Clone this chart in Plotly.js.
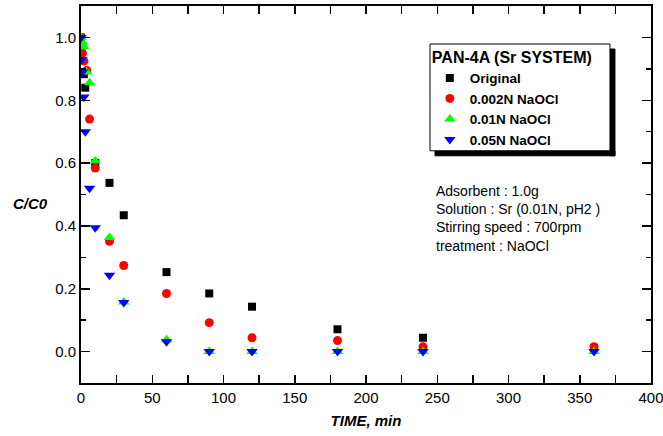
<!DOCTYPE html>
<html>
<head>
<meta charset="utf-8">
<script src="https://cdn.plot.ly/plotly-3.0.1.min.js"></script>
<style>html,body{margin:0;padding:0;background:#fff;}#chart{width:663px;height:436px;}</style>
</head>
<body>
<div id="chart"></div>
<script>
// Data (time in min, C/C0)
const seriesNames = ["Original", "0.002N NaOCl", "0.01N NaOCl", "0.05N NaOCl"];

const timeOriginal = [0, 2, 3, 10, 20, 30, 60, 90, 120, 180, 240, 360];
const valOriginal  = [1.0, 0.883, 0.84, 0.60, 0.537, 0.434, 0.253, 0.185, 0.143, 0.071, 0.044, 0.012];

const time002 = [0, 1, 2, 4, 6, 10, 20, 30, 60, 90, 120, 180, 240, 360];
const val002  = [1.0, 0.95, 0.925, 0.895, 0.74, 0.584, 0.351, 0.274, 0.185, 0.092, 0.044, 0.035, 0.015, 0.015];

const time01 = [0, 1, 2, 4, 6, 10, 20, 30, 60, 90, 120, 180, 240, 360];
const val01  = [1.0, 0.985, 0.97, 0.89, 0.856, 0.607, 0.363, 0.158, 0.038, 0.0, 0.0, 0.0, 0.0, 0.0];

const time05 = [0, 0.5, 1, 2, 3, 6, 10, 20, 30, 60, 90, 120, 180, 240, 360];
const val05  = [1.0, 0.93, 0.89, 0.81, 0.70, 0.52, 0.394, 0.243, 0.156, 0.031, 0.0, 0.0, 0.0, 0.0, 0.0];

const legendTitle = "PAN-4A (Sr SYSTEM)";
const infoLines = ["Adsorbent : 1.0g", "Solution : Sr (0.01N, pH2 )", "Stirring speed : 700rpm", "treatment : NaOCl"];

const FONT = "Liberation Sans, Arial, sans-serif";

const traces = [
  {x: timeOriginal, y: valOriginal, name: seriesNames[0], mode: "markers", type: "scatter",
   marker: {symbol: "square", size: 8, color: "#000000"}},
  {x: time002, y: val002, name: seriesNames[1], mode: "markers", type: "scatter",
   marker: {symbol: "circle", size: 9, color: "#ff0000"}},
  {x: time01, y: val01, name: seriesNames[2], mode: "markers", type: "scatter",
   marker: {symbol: "triangle-up", size: 10, color: "#00ff00"}},
  {x: time05, y: val05, name: seriesNames[3], mode: "markers", type: "scatter",
   marker: {symbol: "triangle-down", size: 10, color: "#0000ff"}}
];

const annotations = [{
  text: infoLines.join("<br>"), xref: "paper", yref: "paper", x: 0.619, y: 0.536,
  xanchor: "left", yanchor: "top", align: "left", showarrow: false,
  font: {family: FONT, size: 14, color: "#000"}
}, {
  text: "<b><i>C/C0</i></b>", xref: "paper", yref: "paper", x: -0.088, y: 0.477,
  xanchor: "center", yanchor: "middle", showarrow: false,
  font: {family: FONT, size: 15, color: "#000"}
}];

// legend frame (box + drop shadow strips), in paper fractions
const boxL = 0.6123, boxR = 0.928, boxT = 0.8992, boxB = 0.616;
const shX = 5 / 570, shY = 5 / 377;

const layout = {
  width: 663, height: 436,
  margin: {l: 81, r: 12, t: 6, b: 53},
  paper_bgcolor: "#fff", plot_bgcolor: "#fff",
  font: {family: FONT, color: "#000"},
  showlegend: true,
  legend: {
    x: 0.612, y: 0.905, xanchor: "left", yanchor: "top",
    bgcolor: "rgba(0,0,0,0)", borderwidth: 0,
    font: {family: FONT, size: 13.5, weight: "bold", color: "#000"},
    title: {text: "<b>" + legendTitle + "</b>", font: {family: FONT, size: 16, color: "#000"}},
    tracegroupgap: 0
  },
  xaxis: {
    range: [0, 400], tick0: 0, dtick: 50,
    ticks: "inside", ticklen: 8, tickwidth: 1.5, tickcolor: "#000",
    minor: {dtick: 25, ticks: "inside", ticklen: 8, tickwidth: 1.5, tickcolor: "#000"},
    showline: true, linewidth: 2, linecolor: "#000", mirror: "allticks",
    showgrid: false, zeroline: false, ticklabeloverflow: "allow",
    tickfont: {family: FONT, size: 15, color: "#000"},
    title: {text: "<b><i>TIME, min</i></b>", font: {family: FONT, size: 15, color: "#000"}, standoff: 10}
  },
  yaxis: {
    range: [-0.1, 1.1], tick0: 0, dtick: 0.2, tickformat: ".1f",
    ticks: "inside", ticklen: 9, tickwidth: 1.5, tickcolor: "#000",
    minor: {dtick: 0.1, ticks: "inside", ticklen: 5, tickwidth: 1.5, tickcolor: "#000"},
    showline: true, linewidth: 2, linecolor: "#000", mirror: "allticks",
    showgrid: false, zeroline: false,
    tickfont: {family: FONT, size: 15, color: "#000"}
  },
  shapes: [{
    // right shadow strip
    type: "rect", xref: "paper", yref: "paper",
    x0: boxR, x1: boxR + shX, y0: boxB - shY, y1: boxT - shY,
    fillcolor: "#000", line: {width: 1, color: "#000"}, layer: "above"
  }, {
    // bottom shadow strip
    type: "rect", xref: "paper", yref: "paper",
    x0: boxL + shX, x1: boxR + shX, y0: boxB - shY, y1: boxB,
    fillcolor: "#000", line: {width: 1, color: "#000"}, layer: "above"
  }, {
    // legend box
    type: "rect", xref: "paper", yref: "paper",
    x0: boxL, x1: boxR, y0: boxB, y1: boxT,
    fillcolor: "#fff", line: {width: 1, color: "#000"}, layer: "above"
  }],
  annotations: annotations
};

Plotly.newPlot("chart", traces, layout, {staticPlot: true, displayModeBar: false});
</script>
</body>
</html>
